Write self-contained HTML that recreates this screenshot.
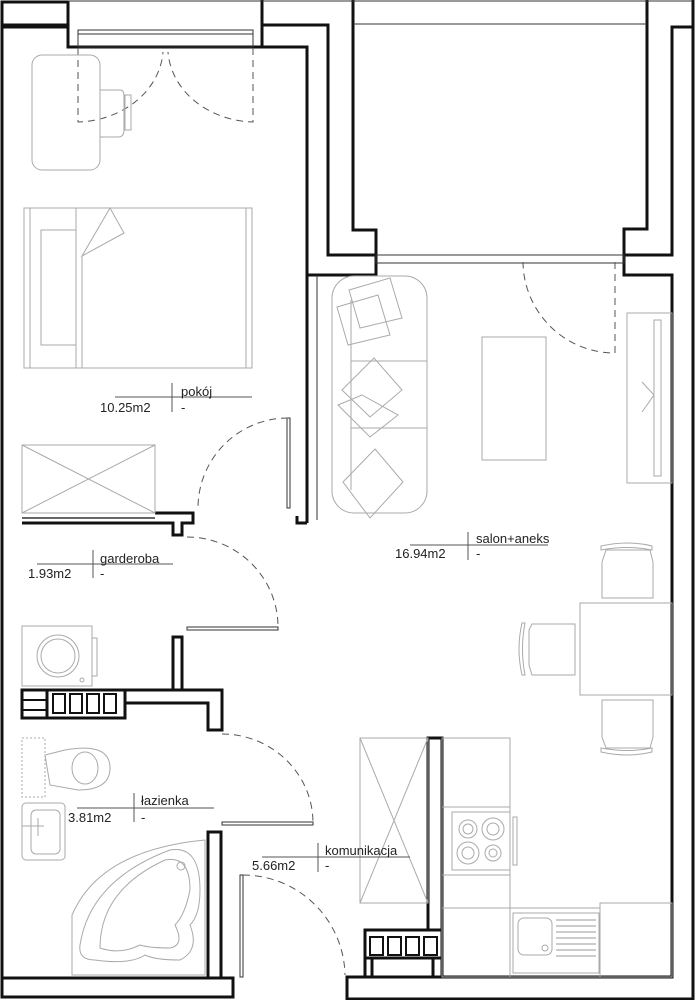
<!DOCTYPE html>
<html><head><meta charset="utf-8"><style>
html,body{margin:0;padding:0;background:#fff;}
svg{display:block;}
text{font-family:"Liberation Sans","DejaVu Sans",sans-serif;font-size:13px;fill:#222;}
</style></head><body>
<svg width="695" height="1000" viewBox="0 0 695 1000" xmlns="http://www.w3.org/2000/svg">
<g fill="none" stroke="#111" stroke-width="3" stroke-linejoin="miter">
<rect x="2" y="2" width="66" height="23"/>
<polyline points="2,998 2,27 68,27 68,47 307,47 307,275 376,275 376,255 328,255 328,25 262,25"/>
<line x1="262" y1="0" x2="262" y2="47"/>
<polyline points="353,0 353,230 376,230 376,255"/>
<polyline points="647,0 647,229 624,229 624,275 672,275 672,977 347,977 347,999 693,999 693,0"/>
<polyline points="692,27 672,27 672,255 624,255"/>
<line x1="307" y1="275" x2="307" y2="523"/>
<polyline points="307,523 297,523 297,516"/>
<rect x="2" y="978" width="231" height="19"/>
<rect x="208" y="832" width="13" height="146"/>
<polyline points="22,523 173,523 173,535 182,535 182,523 193,523 193,513 155,513"/>
<polygon points="22,690 222,690 222,730 208,730 208,703 125,703 125,718 22,718"/>
<rect x="173" y="637" width="9" height="53"/>
<rect x="47" y="690" width="78" height="28"/>
<rect x="428" y="738" width="14" height="192"/>
<rect x="365" y="930" width="77" height="47"/>
<line x1="372" y1="958" x2="372" y2="977"/><line x1="433" y1="958" x2="433" y2="977"/><line x1="365" y1="958" x2="442" y2="958"/>
</g>
<line x1="22" y1="518" x2="155" y2="518" stroke="#333" stroke-width="1.5"/>
<g fill="none" stroke="#111" stroke-width="2">
<rect x="53" y="694" width="12" height="19"/><rect x="70" y="694" width="12" height="19"/><rect x="87" y="694" width="12" height="19"/><rect x="104" y="694" width="12" height="19"/>
<rect x="370" y="937" width="13" height="18"/><rect x="388" y="937" width="13" height="18"/><rect x="406" y="937" width="13" height="18"/><rect x="424" y="937" width="13" height="18"/>
<line x1="22" y1="700" x2="47" y2="700"/><line x1="22" y1="710" x2="47" y2="710"/>
</g>
<g fill="none" stroke="#333" stroke-width="1">
<line x1="68" y1="1" x2="692" y2="1"/>
<line x1="353" y1="24" x2="647" y2="24"/>
<line x1="317" y1="275" x2="317" y2="520"/>
<rect x="78" y="30" width="175" height="17"/>
<line x1="78" y1="34" x2="253" y2="34"/>
<rect x="376" y="255" width="248" height="8"/>
<rect x="287" y="418" width="3" height="90"/>
<rect x="187" y="627" width="91" height="3"/>
<rect x="222" y="822" width="91" height="3"/>
<rect x="240" y="875" width="3" height="102"/>
</g>
<g fill="none" stroke="#555" stroke-width="1" stroke-dasharray="7,5">
<path d="M78,48 V122 A88,75 0 0 0 163,52"/>
<path d="M253,48 V122 A88,75 0 0 1 168,52"/>
<path d="M615,262 V353 A92,92 0 0 1 523,262"/>
<path d="M288,418 A90,90 0 0 0 198,508"/>
<path d="M187,537 A91,90 0 0 1 278,627"/>
<path d="M222,734 A91,89 0 0 1 313,822"/>
<path d="M243,875 A102,102 0 0 1 345,975"/>
</g>
<g fill="none" stroke="#aaa" stroke-width="1">
<rect x="32" y="55" width="68" height="115" rx="10"/>
<path d="M100,90 H120 Q124,90 124,96 V130 Q124,137 118,137 H100"/><rect x="125" y="95" width="6" height="35"/>
<rect x="24" y="208" width="228" height="160"/>
<line x1="30" y1="208" x2="30" y2="368"/><line x1="76" y1="208" x2="76" y2="368"/><line x1="82" y1="256" x2="82" y2="368"/><line x1="246" y1="208" x2="246" y2="368"/>
<rect x="41" y="230" width="35" height="115"/>
<polygon points="82,256 110,208 124,233"/>
<rect x="332" y="276" width="95" height="237" rx="22"/>
<line x1="351" y1="300" x2="351" y2="490"/><line x1="351" y1="361" x2="427" y2="361"/><line x1="351" y1="428" x2="427" y2="428"/>
<polygon points="349,290 390,278 402,318 360,328"/><polygon points="337,307 378,295 390,335 348,345"/>
<polygon points="342,390 374,358 402,390 370,417"/><polygon points="338,405 362,395 398,415 370,437"/>
<polygon points="343,482 375,449 403,482 370,518"/>
<rect x="482" y="337" width="64" height="123"/>
<rect x="627" y="313" width="45" height="170"/><rect x="654" y="320" width="7" height="156"/>
<polyline points="642,382 654,395 642,412"/>
<rect x="580" y="603" width="92" height="92"/>
<path d="M602,598 V562 L606,550 H650 L653,562 V598 Z"/><path d="M601,546 Q628,540 652,546 L652,550 Q628,545 601,550Z"/>
<path d="M602,700 V737 L606,748 H650 L653,737 V700 Z"/><path d="M601,752 Q628,758 652,752 L652,748 Q628,753 601,748Z"/>
<path d="M575,624 H532 L529,630 V665 L532,675 H575 Z"/><path d="M525,623 Q520,649 525,675 L522,675 Q516,649 522,623Z"/>
<rect x="360" y="738" width="68" height="165"/><line x1="360" y1="738" x2="428" y2="903"/><line x1="428" y1="738" x2="360" y2="903"/>
<rect x="442" y="738" width="68" height="239"/><line x1="442" y1="807" x2="510" y2="807"/><line x1="442" y1="875" x2="510" y2="875"/>
<rect x="452" y="812" width="58" height="58"/><rect x="513" y="817" width="4" height="48"/>
<circle cx="468" cy="829" r="9"/><circle cx="468" cy="829" r="5"/><circle cx="493" cy="829" r="11"/><circle cx="493" cy="829" r="6"/><circle cx="468" cy="853" r="11"/><circle cx="468" cy="853" r="6"/><circle cx="493" cy="853" r="8"/><circle cx="493" cy="853" r="4"/>
<rect x="510" y="908" width="90" height="69"/><rect x="513" y="913" width="86" height="60"/>
<rect x="518" y="918" width="34" height="37" rx="6"/><circle cx="545" cy="948" r="3"/>
<g stroke="#999"><line x1="556" y1="920" x2="596" y2="920"/><line x1="556" y1="926" x2="596" y2="926"/><line x1="556" y1="932" x2="596" y2="932"/><line x1="556" y1="938" x2="596" y2="938"/><line x1="556" y1="944" x2="596" y2="944"/><line x1="556" y1="950" x2="596" y2="950"/><line x1="556" y1="956" x2="596" y2="956"/></g>
<rect x="600" y="903" width="72" height="74"/>
<line x1="442" y1="908" x2="510" y2="908"/>
<rect x="22" y="626" width="70" height="60"/><rect x="92" y="638" width="5" height="38"/><circle cx="58" cy="656" r="21"/><circle cx="58" cy="656" r="17"/><circle cx="82" cy="680" r="2"/>
<rect x="22" y="738" width="23" height="59" stroke-dasharray="2,2"/>
<path d="M45,755 L65,750 Q110,742 110,768 Q110,790 78,790 L50,785 Z"/><ellipse cx="85" cy="768" rx="13" ry="16"/>
<rect x="22" y="803" width="43" height="57" rx="4"/><rect x="31" y="810" width="29" height="44" rx="5"/><line x1="22" y1="826" x2="44" y2="826"/><line x1="38" y1="818" x2="38" y2="836"/>
<path d="M72,975 V915 Q100,850 205,840 V975 Z"/>
<path d="M80,945 Q90,880 170,850 Q200,845 200,890 Q200,915 190,925 Q200,950 180,960 Q155,960 145,955 Q130,965 95,960 Q78,960 80,945Z"/>
<path d="M100,948 Q100,890 165,860 Q190,855 190,890 Q185,915 175,925 Q185,945 170,948 Q150,948 140,945 Q120,955 100,948Z"/>
<circle cx="181" cy="866" r="4"/>
<rect x="22" y="445" width="133" height="68"/><line x1="22" y1="445" x2="155" y2="513"/><line x1="155" y1="445" x2="22" y2="513"/>
</g>
<g stroke="#555" stroke-width="1">
<line x1="115" y1="397" x2="252" y2="397"/><line x1="172" y1="383" x2="172" y2="412"/>
<line x1="37" y1="564" x2="173" y2="564"/><line x1="93" y1="550" x2="93" y2="578"/>
<line x1="77" y1="808" x2="214" y2="808"/><line x1="134" y1="793" x2="134" y2="822"/>
<line x1="262" y1="857" x2="410" y2="857"/><line x1="318" y1="843" x2="318" y2="872"/>
<line x1="410" y1="545" x2="548" y2="545"/><line x1="468" y1="532" x2="468" y2="560"/>
</g>
<text x="181" y="396">pokój</text><text x="100" y="412">10.25m2</text><text x="181" y="412">-</text>
<text x="100" y="563">garderoba</text><text x="28" y="578">1.93m2</text><text x="100" y="578">-</text>
<text x="141" y="805">łazienka</text><text x="68" y="822">3.81m2</text><text x="141" y="822">-</text>
<text x="325" y="855">komunikacja</text><text x="252" y="870">5.66m2</text><text x="325" y="870">-</text>
<text x="476" y="543">salon+aneks</text><text x="395" y="558">16.94m2</text><text x="476" y="558">-</text>
</svg>
</body></html>
